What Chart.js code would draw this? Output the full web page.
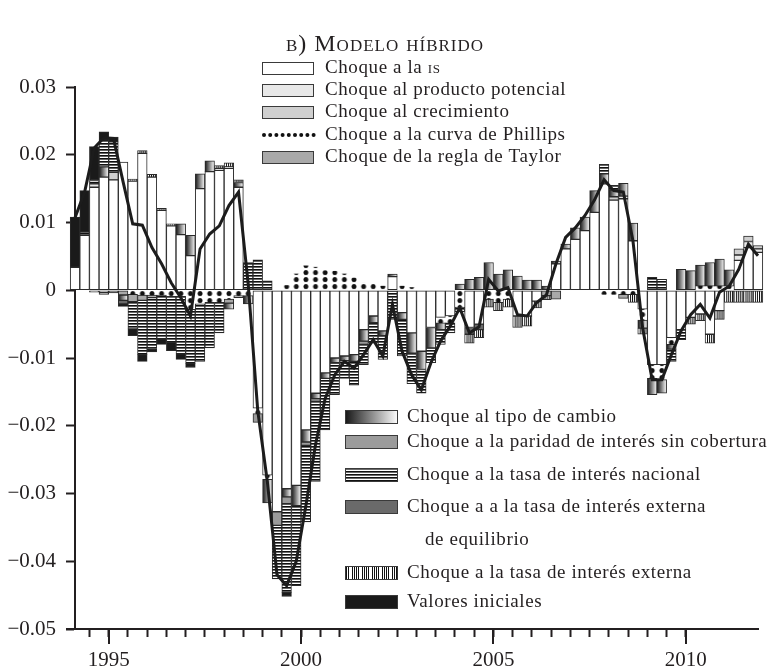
<!DOCTYPE html>
<html>
<head>
<meta charset="utf-8">
<script src="https://cdn.jsdelivr.net/npm/chart.js@4"></script>
<style>
  html, body { margin: 0; background: #fff; }
</style>
</head>
<body>
<canvas id="myChart" width="771" height="670"></canvas>
<script>
// quarterly decomposition, 1994-I .. 2011-IV
var years = [1994, 1995, 1996, 1997, 1998, 1999, 2000, 2001, 2002, 2003, 2004, 2005, 2006, 2007, 2008, 2009, 2010, 2011];
var quarters = years.flatMap(y => ['I', 'II', 'III', 'IV'].map(q => y + '-' + q));

var choqueIS = [
  0.0034, 0.0081, 0.0152, 0.0167,
  0.0163, 0.0189, 0.0161, 0.0202,
  0.0167, 0.0118, 0.0095, 0.0082,
  0.0051, 0.0150, 0.0175, 0.0177,
  0.0180, 0.0152, 0, -0.0174,
  -0.0273, -0.0327, -0.0293, -0.0288,
  -0.0206, -0.0152, -0.0122, -0.0100,
  -0.0097, -0.0095, -0.0058, -0.0038,
  -0.0060, 0.0020, -0.0033, -0.0063,
  -0.0090, -0.0055, -0.0040, -0.0038,
  0, -0.0055, -0.0050, 0,
  0, 0, -0.0038, -0.0038,
  -0.0016, 0, 0.0039, 0.0061,
  0.0075, 0.0088, 0.0115, 0.0157,
  0.0133, 0.0135, 0.0073, -0.0028,
  -0.0110, -0.0110, -0.0070, -0.0058,
  -0.0040, -0.0035, -0.0065, -0.0030,
  0, 0.0044, 0.0063, 0.0056
];
var choquePotencial = [
  0, 0, 0.0005, 0,
  0, 0, 0, 0,
  0, 0, 0, 0,
  0, 0, 0, 0.0003,
  0, 0, 0, 0,
  0, 0, 0, 0,
  0, 0, 0, 0,
  0, 0, 0, 0,
  0, 0, 0, 0,
  0, 0, 0, 0,
  0, 0, 0, 0,
  0, 0, 0, 0,
  0, 0, 0, 0,
  0, 0, 0, 0,
  0, 0.0004, 0, 0,
  0, 0, 0, 0,
  0, 0, 0, 0,
  0, 0.0008, 0.0009, 0.0005
];
var choqueCrecimiento = [
  0, 0, 0, -0.0003,
  0.0011, 0, 0, 0,
  0, 0, 0, 0,
  0, 0, 0, 0,
  0.0002, 0, 0, 0,
  0, 0, 0, 0,
  0, 0, 0, 0,
  0, 0, 0, 0,
  0, 0, 0, 0,
  0, 0, 0, 0,
  0, 0, 0, 0,
  0, 0, 0, 0,
  0, 0, 0, 0,
  0, 0, 0, 0,
  0.0005, 0, 0, 0,
  0, 0, 0, 0,
  0, 0, 0, 0,
  0, 0.0009, 0.0008, 0.0005
];
var choquePhillips = [
  0, 0, 0, 0,
  0, 0, -0.0006, -0.0007,
  -0.0007, -0.0007, -0.0009, -0.0009,
  -0.0028, -0.0020, -0.0018, -0.0018,
  -0.0013, -0.0008, -0.0008, -0.0008,
  -0.0006, 0, 0.0007, 0.0024,
  0.0036, 0.0034, 0.0029, 0.0028,
  0.0024, 0.0018, 0.0011, 0.0009,
  0.0006, 0, 0.0006, 0.0004,
  0, 0, -0.0008, -0.0010,
  -0.0025, 0, 0, -0.0013,
  -0.0018, -0.0013, 0, 0,
  0, 0, 0, 0,
  0, 0, 0, -0.0006,
  -0.0006, -0.0006, -0.0006, -0.0016,
  -0.0020, -0.0022, -0.0010, 0,
  0, 0.0006, 0.0006, 0.0006,
  0.0006, 0, 0, 0
];
var choqueTaylor = [
  0, 0, -0.0003, -0.0003,
  -0.0004, -0.0007, -0.0011, -0.0008,
  -0.0004, 0, 0, 0,
  0, 0, 0, 0,
  -0.0006, -0.0003, 0, 0,
  0, 0, 0, 0,
  0, 0, 0, 0,
  0, 0, 0, 0,
  0, 0, 0, 0,
  0, 0, 0, 0,
  0, 0, 0, 0,
  0, 0, 0, 0,
  0, -0.0008, -0.0013, 0,
  0, 0, 0, 0,
  0, -0.0006, 0, 0,
  0, 0, 0, 0,
  0, 0, 0, 0,
  0, 0, 0, 0
];
var choqueTipoCambio = [
  0, 0, 0, 0.0015,
  0, -0.0008, 0, 0,
  0, 0, 0, 0.0016,
  0.0030, 0.0022, 0.0016, 0,
  -0.0009, 0.0007, -0.0012, 0,
  -0.0035, 0, -0.0012, -0.0030,
  -0.0018, -0.0008, -0.0008, -0.0007,
  -0.0007, -0.0010, -0.0017, -0.0010,
  -0.0007, 0.0004, -0.0010, -0.0030,
  -0.0027, -0.0030, -0.0010, 0,
  0.0009, 0.0016, 0.0019, 0.0041,
  0.0024, 0.0030, 0.0021, 0.0015,
  0.0015, 0.0006, 0.0004, 0.0007,
  0.0017, 0.0020, 0.0032, 0.0015,
  0.0010, 0.0019, 0.0026, -0.0012,
  -0.0024, -0.0020, -0.0007, 0.0031,
  0.0029, 0.0031, 0.0035, 0.0040,
  0.0024, 0, 0, 0
];
var choqueParidad = [
  0, 0, 0, 0,
  0, 0, 0, 0,
  0, 0, 0, 0,
  0, 0, 0, 0,
  0, 0, 0, -0.0013,
  0, -0.0020, -0.0010, 0,
  -0.0005, -0.0004, 0, 0,
  0, 0, -0.0005, 0,
  0, 0, 0, 0,
  0, 0, 0, 0,
  0, 0, 0, 0,
  0, 0, 0, 0,
  0, 0, 0, 0,
  0, 0, 0, 0,
  0, 0, 0, 0,
  0, 0, 0, 0,
  0, 0, 0, 0,
  0, 0, 0, 0
];
var choqueTasaNacional = [
  0, 0.0005, 0.0005, 0.0040,
  0.0045, 0, -0.0040, -0.0080,
  -0.0075, -0.0065, -0.0068, -0.0085,
  -0.0080, -0.0085, -0.0067, -0.0045,
  0, 0, 0.0041, 0.0045,
  0.0014, -0.0079, -0.0131, -0.0118,
  -0.0113, -0.0118, -0.0076, -0.0047,
  -0.0026, -0.0035, -0.0030, -0.0030,
  -0.0035, -0.0043, -0.0054, -0.0045,
  -0.0035, -0.0022, -0.0022, -0.0015,
  -0.0007, 0, 0, 0,
  0, 0, 0, 0,
  0, 0, 0, 0,
  0, 0, 0, 0.0014,
  0.0007, 0, 0, 0,
  0.0019, 0.0016, -0.0018, -0.0015,
  0, 0, 0, 0,
  0, 0, 0, 0
];
var choqueExternaEq = [
  0, 0, 0, 0,
  0, -0.0005, 0, 0,
  0, 0, 0, 0,
  0, 0, 0, 0,
  0, 0, 0, 0,
  0, 0, 0, 0,
  0, 0, 0, 0,
  0, 0, 0, 0,
  0, 0, 0, 0,
  0, 0, 0, 0,
  0, -0.0010, -0.0008, 0,
  0, 0, 0, 0,
  0, 0, 0, 0,
  0, 0, 0, 0,
  0, 0, 0, 0,
  0, 0, 0, 0,
  0, 0, 0, 0,
  0, 0, 0, 0
];
var choqueExterna = [
  0, 0, 0, 0,
  0, 0, 0.0003, 0.0004,
  0.0004, 0.0003, 0.0003, 0,
  0, 0, 0, 0.0004,
  0.0006, 0.0004, 0, 0,
  0, 0, 0, 0,
  0, 0, 0, 0,
  0, 0, 0, 0,
  0, 0, 0, 0,
  0, 0, 0, 0,
  0, -0.0013, -0.0012, -0.0012,
  -0.0012, -0.0012, -0.0017, -0.0015,
  -0.0010, -0.0006, 0, 0,
  0, 0, 0, 0,
  0, 0, -0.0012, -0.0009,
  0, 0, 0, 0,
  -0.0010, -0.0010, -0.0013, -0.0013,
  -0.0018, -0.0018, -0.0018, -0.0018
];
var valoresIniciales = [
  0.0074, 0.0061, 0.0050, 0.0012,
  0.0007, -0.0004, -0.0010, -0.0010,
  -0.0005, -0.0008, -0.0012, -0.0008,
  -0.0006, 0, 0, 0,
  0, 0, 0, 0,
  0, 0, -0.0006, 0,
  0, 0, 0, 0,
  0, 0, 0, 0,
  0, 0, 0, 0,
  0, 0, 0, 0,
  0, 0, 0, 0,
  0, 0, 0, 0,
  0, 0, 0, 0,
  0, 0, 0, 0,
  0, 0, 0, 0,
  0, 0, 0, 0,
  0, 0, 0, 0,
  0, 0, 0, 0
];
var observado = [
  0.0107, 0.0145, 0.0210, 0.0225,
  0.0224, 0.0160, 0.0098, 0.0096,
  0.0063, 0.0039, 0.0011, -0.0011,
  -0.0038, 0.0061, 0.0083, 0.0095,
  0.0125, 0.0145, 0.0010, -0.0178,
  -0.0283, -0.0420, -0.0436, -0.0400,
  -0.0318, -0.0228, -0.0160, -0.0125,
  -0.0105, -0.0115, -0.0095, -0.0073,
  -0.0097, -0.0021, -0.0090, -0.0125,
  -0.0147, -0.0107, -0.0075, -0.0053,
  -0.0026, -0.0063, -0.0054, 0.0016,
  -0.0001, 0.0004, -0.0036, -0.0038,
  -0.0018, -0.0007, 0.0039, 0.0078,
  0.0092, 0.0110, 0.0133, 0.0163,
  0.0147, 0.0145, 0.0073, -0.0055,
  -0.0132, -0.0132, -0.0095, -0.0060,
  -0.0036, -0.0021, -0.0041, -0.0003,
  0.0006, 0.0031, 0.0068, 0.0051
];

var yTicks = [0.03, 0.02, 0.01, 0, -0.01, -0.02, -0.03, -0.04, -0.05];
var yearLabels = [1995, 2000, 2005, 2010];
var titulo = 'b) Modelo híbrido';

var ink = '#231f20';
var serif = '"Liberation Serif", "Times New Roman", serif';

// x position of every quarter (middle of the quarter, in years)
var xPos = quarters.map((q, i) => years[0] + (i + 0.5) / 4);
// half-year tick marks up to 2010
var xTicks = [];
for (let t = years[0] + 0.5; t <= yearLabels[yearLabels.length - 1]; t += 0.5) xTicks.push(t);

var canvas = document.getElementById('myChart');
var ctx = canvas.getContext('2d');

function tile(w, h, paint) {
    let c = document.createElement('canvas');
    c.width = w;
    c.height = h;
    paint(c.getContext('2d'));
    return c;
}

var dotTile = tile(10, 7, g => {
    g.fillStyle = '#111';
    g.beginPath();
    g.arc(5, 3.5, 2.5, 0, Math.PI * 2);
    g.fill();
});
var hTile = tile(10, 3, g => {
    g.fillStyle = '#fff';
    g.fillRect(0, 0, 10, 3);
    g.fillStyle = '#111';
    g.fillRect(0, 0, 10, 1);
    g.fillStyle = '#6a6a6a';
    g.fillRect(0, 1, 10, 1);
});
var vTile = tile(10, 4, g => {
    g.fillStyle = '#fff';
    g.fillRect(0, 0, 10, 4);
    g.fillStyle = '#111';
    [2, 4, 6, 8].forEach(x => g.fillRect(x, 0, 1, 4));
});
var gradTile = tile(10, 1, g => {
    let gr = g.createLinearGradient(0, 0, 10, 0);
    gr.addColorStop(0, '#151515');
    gr.addColorStop(1, '#ffffff');
    g.fillStyle = gr;
    g.fillRect(0, 0, 10, 1);
});

// patterns for the bars (aligned to the bars before drawing)
var dotPat = ctx.createPattern(dotTile, 'repeat');
var hPat = ctx.createPattern(hTile, 'repeat');
var vPat = ctx.createPattern(vTile, 'repeat');
var gradPat = ctx.createPattern(gradTile, 'repeat');
// patterns for the legend boxes
var hPatL = ctx.createPattern(hTile, 'repeat');
var vPatL = ctx.createPattern(vTile, 'repeat');

function bar(label, values, fill, legendFill, extra) {
    return Object.assign({
        type: 'bar',
        label: label,
        data: values.map(v => v === 0 ? null : v),
        backgroundColor: fill,
        borderColor: '#2a2a2a',
        borderWidth: 1,
        borderSkipped: false,
        barPercentage: 1,
        categoryPercentage: 1,
        clip: false,
        order: 1,
        legendFill: legendFill
    }, extra || {});
}

var alignPatterns = {
    id: 'alignPatterns',
    beforeDatasetsDraw(chart) {
        let xs = chart.scales.x, ys = chart.scales.y;
        let w = xs.getPixelForValue(xPos[1]) - xs.getPixelForValue(xPos[0]);
        let x0 = xs.getPixelForValue(xPos[0]) - w / 2;
        let y0 = Math.round(ys.getPixelForValue(0));
        let m = new DOMMatrix().translate(x0, y0).scale(w / 10, 1);
        [dotPat, hPat, vPat, gradPat].forEach(p => p.setTransform(m));
    }
};

function drawLabel(c, text, x, y) {
    c.font = '19px ' + serif;
    if (text.endsWith(' IS')) {
        let head = text.slice(0, -2);
        c.fillText(head, x, y);
        let w = c.measureText(head).width;
        c.font = 'small-caps 19px ' + serif;
        c.fillText('is', x + w, y);
    } else {
        c.fillText(text, x, y);
    }
}

var customLegend = {
    id: 'customLegend',
    afterDraw(chart) {
        let c = chart.ctx;
        let ds = chart.data.datasets;
        let xs = chart.scales.x;
        let area = chart.chartArea;
        c.save();

        // longer marks for the labelled years, axis stub to the left
        c.strokeStyle = ink;
        c.lineWidth = 2;
        yearLabels.forEach(yr => {
            let px = Math.round(xs.getPixelForValue(yr));
            c.beginPath();
            c.moveTo(px, area.bottom);
            c.lineTo(px, area.bottom + 15);
            c.stroke();
        });
        c.beginPath();
        c.moveTo(area.left - 9, area.bottom);
        c.lineTo(area.left, area.bottom);
        c.stroke();

        c.fillStyle = ink;
        c.textBaseline = 'middle';

        // title
        c.textAlign = 'center';
        c.letterSpacing = '1px';
        c.font = 'small-caps 24px ' + serif;
        c.fillText(titulo, 385, 45);

        c.textAlign = 'left';
        c.letterSpacing = '0.6px';

        let topRows = [68, 90, 112, 135, 157];
        let bottomRows = [417, 442, 475, 507, 573, 602];
        let items = ds.filter(d => d.type === 'bar');

        items.forEach((d, k) => {
            let top = k < 5;
            let bx = top ? 262 : 345;
            let bw = top ? 52 : 53;
            let bh = top ? 13 : 14;
            let cy = top ? topRows[k] : bottomRows[k - 5];
            let tx = top ? 325 : 407;
            let by = Math.round(cy - bh / 2);

            if (d.legendFill === 'dots') {
                c.fillStyle = '#111';
                for (let i = 0; i < 9; i++) {
                    c.beginPath();
                    c.arc(bx + 2 + i * 6.2, cy, 2, 0, Math.PI * 2);
                    c.fill();
                }
            } else {
                let f = d.legendFill;
                if (f === 'gradient') {
                    f = c.createLinearGradient(bx, 0, bx + bw, 0);
                    f.addColorStop(0, '#151515');
                    f.addColorStop(1, '#ffffff');
                } else if (f === 'hlines') {
                    f = hPatL;
                } else if (f === 'vlines') {
                    f = vPatL;
                }
                c.fillStyle = f;
                c.fillRect(bx, by, bw, bh);
                c.strokeStyle = '#3a3a3a';
                c.lineWidth = 1;
                c.strokeRect(bx + 0.5, by + 0.5, bw - 1, bh - 1);
            }

            c.fillStyle = ink;
            let lines = d.label.split('\n');
            drawLabel(c, lines[0], tx, cy);
            if (lines[1]) drawLabel(c, lines[1], tx + 18, cy + 33);
        });
        c.restore();
    }
};

function fmt(v) {
    if (v === 0) return '0';
    return (v < 0 ? '\u2212' : '') + Math.abs(v).toFixed(2);
}

var chart = new Chart(ctx, {
    type: 'bar',
    data: {
        labels: xPos,
        datasets: [
            {
                type: 'line',
                label: 'Observado',
                data: observado,
                borderColor: '#1c1c1c',
                borderWidth: 3,
                pointRadius: 0,
                tension: 0,
                order: 0,
                clip: false
            },
            bar('Choque a la IS', choqueIS, '#ffffff', '#ffffff'),
            bar('Choque al producto potencial', choquePotencial, '#e8e8e8', '#e8e8e8'),
            bar('Choque al crecimiento', choqueCrecimiento, '#cfcfcf', '#cfcfcf'),
            bar('Choque a la curva de Phillips', choquePhillips, dotPat, 'dots', { borderWidth: 0 }),
            bar('Choque de la regla de Taylor', choqueTaylor, '#a9a9a9', '#a9a9a9'),
            bar('Choque al tipo de cambio', choqueTipoCambio, gradPat, 'gradient'),
            bar('Choque a la paridad de interés sin cobertura', choqueParidad, '#9b9b9b', '#9b9b9b'),
            bar('Choque a la tasa de interés nacional', choqueTasaNacional, hPat, 'hlines'),
            bar('Choque a a la tasa de interés externa\nde equilibrio', choqueExternaEq, '#6a6a6a', '#6a6a6a'),
            bar('Choque a la tasa de interés externa', choqueExterna, vPat, 'vlines'),
            bar('Valores iniciales', valoresIniciales, '#1a1a1a', '#1a1a1a')
        ]
    },
    options: {
        responsive: false,
        animation: false,
        events: [],
        layout: {
            padding: { top: 87, right: 13, left: 0, bottom: 0 }
        },
        plugins: {
            legend: { display: false },
            title: { display: false },
            tooltip: { enabled: false }
        },
        scales: {
            x: {
                type: 'linear',
                stacked: true,
                offset: false,
                min: xPos[0],
                max: xPos[xPos.length - 1],
                afterFit: s => { s.height = 41; },
                afterBuildTicks: s => { s.ticks = xTicks.map(v => ({ value: v })); },
                ticks: {
                    autoSkip: false,
                    maxRotation: 0,
                    padding: 11,
                    color: ink,
                    font: { family: serif, size: 21 },
                    callback: v => yearLabels.includes(v) ? String(v) : ''
                },
                grid: {
                    offset: false,
                    drawOnChartArea: false,
                    tickLength: 8,
                    tickWidth: 2,
                    tickColor: ink
                },
                border: { color: ink, width: 2 }
            },
            y: {
                stacked: true,
                min: -0.05,
                max: 0.03,
                z: 1,
                afterFit: s => { s.width = 75; },
                afterBuildTicks: s => { s.ticks = yTicks.map(v => ({ value: v })); },
                ticks: {
                    padding: 10,
                    color: ink,
                    font: { family: serif, size: 21 },
                    callback: v => fmt(v)
                },
                grid: {
                    drawOnChartArea: false,
                    tickLength: 9,
                    tickWidth: 2,
                    tickColor: ink
                },
                border: { color: ink, width: 2 }
            }
        }
    },
    plugins: [alignPatterns, customLegend]
});
</script>
</body>
</html>
